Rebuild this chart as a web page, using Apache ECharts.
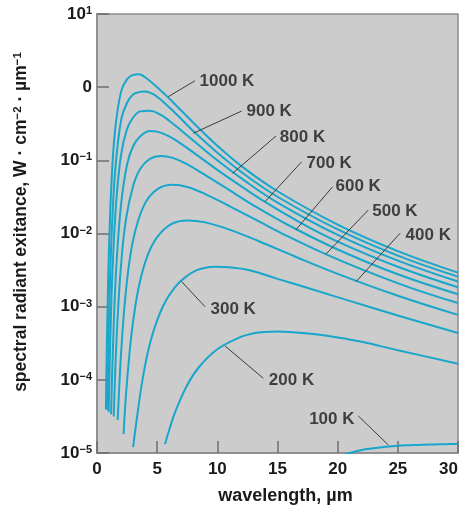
<!DOCTYPE html>
<html><head><meta charset="utf-8">
<script src="https://cdn.jsdelivr.net/npm/echarts@6.0.0/dist/echarts.min.js"></script>
<style>html,body{margin:0;padding:0;background:#fff}#c{width:462px;height:509px}</style>
</head><body><div id="c"></div>
<script>
// ---- tick labels ----
const xTicks = [0, 5, 10, 15, 20, 25, 30];
const yExponents = [-5, -4, -3, -2, -1, 0, 1];
const yTickText = ['10|−5', '10|−4', '10|−3', '10|−2', '10|−1', '0', '10|1'];

// ---- curves: wavelength (µm) and spectral radiant exitance (W·cm⁻²·µm⁻¹) ----
const curveNames = ['1000 K', '900 K', '800 K', '700 K', '600 K', '500 K', '400 K', '300 K', '200 K', '100 K'];

const wl1000 = [0.74, 0.8, 0.9, 1.0, 1.2, 1.5, 2.0, 2.5, 3.0, 3.5, 4.0, 5.0, 6.0, 7.0, 8.0, 10, 12, 15, 20, 25, 30];
const m1000 = [3.93e-5, 1.91e-4, 1.45e-3, 6.47e-3, 4.80e-2, 0.255, 0.869, 1.285, 1.472, 1.503, 1.365, 1.000, 0.700, 0.479, 0.327, 0.158, 0.0834, 0.0378, 0.01324, 5.74e-3, 2.92e-3];

const wl900 = [0.86, 0.95, 1.05, 1.2, 1.5, 2.0, 2.5, 3.0, 3.5, 3.9, 4.4, 5, 6, 7, 8, 10, 12, 15, 20, 25, 30];
const m900 = [3.89e-5, 2.75e-4, 1.41e-3, 8.22e-3, 6.90e-2, 0.351, 0.612, 0.794, 0.855, 0.873, 0.841, 0.741, 0.531, 0.367, 0.251, 0.127, 0.069, 0.0318, 0.01138, 4.99e-3, 2.57e-3];

const wl800 = [0.97, 1.05, 1.15, 1.3, 1.6, 2.0, 2.5, 3.0, 3.6, 4.4, 5.2, 6.0, 7.0, 8.0, 10, 12, 15, 20, 25, 30];
const m800 = [3.63e-5, 1.53e-4, 6.65e-4, 3.46e-3, 2.76e-2, 0.119, 0.269, 0.385, 0.467, 0.476, 0.428, 0.348, 0.256, 0.187, 0.100, 0.0566, 0.0264, 9.55e-3, 4.25e-3, 2.21e-3];

const wl700 = [1.17, 1.25, 1.4, 1.6, 2.0, 2.5, 3.0, 3.6, 4.4, 5.0, 6.0, 7.0, 8.0, 10, 12, 14, 17, 20, 25, 30];
const m700 = [3.39e-5, 1.06e-4, 6.30e-4, 3.37e-3, 2.50e-2, 8.79e-2, 0.156, 0.213, 0.252, 0.247, 0.213, 0.168, 0.1285, 0.0741, 0.0441, 0.0268, 0.0138, 7.76e-3, 3.51e-3, 1.84e-3];

const wl600 = [1.39, 1.5, 1.7, 2.0, 2.4, 3.0, 3.6, 4.4, 5.3, 6.3, 7.5, 9, 11, 13, 16, 20, 25, 30];
const m600 = [3.16e-5, 1.13e-4, 6.46e-4, 3.73e-3, 1.54e-2, 4.47e-2, 7.69e-2, 0.1047, 0.1148, 0.1081, 0.0879, 0.0629, 0.0392, 0.0243, 0.01276, 6.05e-3, 2.77e-3, 1.48e-3];

const wl500 = [1.72, 1.85, 2.0, 2.3, 2.7, 3.2, 4.0, 5.0, 6.3, 7.5, 9, 11, 13.5, 16, 19, 22, 26, 30];
const m500 = [2.82e-5, 8.05e-5, 2.30e-4, 1.08e-3, 4.19e-3, 1.12e-2, 2.60e-2, 4.02e-2, 4.62e-2, 4.32e-2, 3.46e-2, 2.37e-2, 1.45e-2, 8.91e-3, 5.22e-3, 3.24e-3, 1.82e-3, 1.12e-3];

const wl400 = [2.21, 2.4, 2.7, 3.0, 3.5, 4.2, 5.0, 6.2, 7.5, 9, 11, 13.5, 16.5, 20, 25, 30];
const m400 = [1.82e-5, 5.97e-5, 2.30e-4, 6.23e-4, 1.96e-3, 4.97e-3, 8.91e-3, 1.35e-2, 1.51e-2, 1.42e-2, 1.13e-2, 7.78e-3, 4.81e-3, 2.81e-3, 1.41e-3, 7.73e-4];

const wl300 = [3.0, 3.3, 3.8, 4.5, 5.5, 6.5, 7.5, 8.25, 9.0, 9.8, 11, 12.5, 15, 18, 21, 25, 30];
const m300 = [1.20e-5, 2.87e-5, 1.04e-4, 3.62e-4, 1.03e-3, 1.87e-3, 2.64e-3, 3.13e-3, 3.40e-3, 3.51e-3, 3.45e-3, 3.20e-3, 2.40e-3, 1.70e-3, 1.20e-3, 7.59e-4, 4.37e-4];

const wl200 = [5.65, 6.0, 6.5, 7.5, 8.5, 10, 12, 13, 14, 15, 16, 18, 20, 22, 25, 30];
const m200 = [1.32e-5, 2.06e-5, 3.64e-5, 8.48e-5, 1.51e-4, 2.62e-4, 3.89e-4, 4.32e-4, 4.52e-4, 4.57e-4, 4.52e-4, 4.22e-4, 3.80e-4, 3.31e-4, 2.54e-4, 1.66e-4];

const wl100 = [20.5, 21, 22, 23, 24, 25, 26, 27, 28, 29, 30];
const m100 = [9.33e-6, 1.00e-5, 1.10e-5, 1.16e-5, 1.22e-5, 1.26e-5, 1.28e-5, 1.30e-5, 1.31e-5, 1.32e-5, 1.33e-5];

const curveWl = [wl1000, wl900, wl800, wl700, wl600, wl500, wl400, wl300, wl200, wl100];
const curveM = [m1000, m900, m800, m700, m600, m500, m400, m300, m200, m100];

// ---- annotation layout (data-space positions: [wavelength, log10 exitance]) ----
const annotations = [
  { label: [8.48, 0.075], side: 'right', line: [[5.925, -0.130], [8.144, 0.088]] },
  { label: [12.38, -0.326], side: 'right', line: [[8.003, -0.630], [12.025, -0.326]] },
  { label: [15.15, -0.691], side: 'right', line: [[11.277, -1.177], [14.876, -0.667]] },
  { label: [17.37, -1.040], side: 'right', line: [[13.962, -1.565], [17.011, -1.019]] },
  { label: [19.78, -1.360], side: 'right', line: [[16.513, -1.952], [19.588, -1.360]] },
  { label: [22.83, -1.702], side: 'right', line: [[19.031, -2.280], [22.546, -1.679]] },
  { label: [25.60, -2.020], side: 'right', line: [[21.524, -2.659], [25.181, -1.997]] },
  { label: [9.39, -3.036], side: 'right', line: [[7.039, -2.659], [8.975, -3.000]] },
  { label: [14.24, -4.002], side: 'right', line: [[10.637, -3.537], [13.820, -3.979]] },
  { label: [21.44, -4.539], side: 'left', line: [[24.208, -4.890], [21.715, -4.494]] }
];

const FONT = '"Liberation Sans", Arial, Helvetica, sans-serif';
const TXT = '#1a1a1a';
const CURVE = '#19a6cb';
const AXIS = '#8a8a8a';
const p10 = e => Math.pow(10, e);

const series = curveNames.map((name, k) => ({
  name: name,
  type: 'line',
  data: curveWl[k].map((x, i) => [x, curveM[k][i]]),
  showSymbol: false,
  symbol: 'none',
  smooth: 0.4,
  clip: true,
  lineStyle: { color: CURVE, width: 2 },
  silent: true,
  z: 3,
  markLine: {
    silent: true,
    symbol: ['none', 'none'],
    animation: false,
    label: { show: false },
    lineStyle: { color: '#3c3c3c', width: 1, type: 'solid' },
    data: [[
      { coord: [annotations[k].line[0][0], p10(annotations[k].line[0][1])] },
      { coord: [annotations[k].line[1][0], p10(annotations[k].line[1][1])] }
    ]]
  }
}));

series.push({
  type: 'scatter',
  silent: true,
  symbol: 'circle',
  symbolSize: 1,
  itemStyle: { color: 'rgba(0,0,0,0)' },
  z: 5,
  labelLayout: { hideOverlap: false },
  data: annotations.map((a, k) => ({
    value: [a.label[0], p10(a.label[1])],
    label: {
      show: true,
      position: a.side,
      distance: 0,
      formatter: curveNames[k],
      color: TXT,
      fontSize: 17,
      fontWeight: 'bold',
      fontFamily: FONT
    }
  }))
});

const chart = echarts.init(document.getElementById('c'), null, { renderer: 'canvas' });
chart.setOption({
  animation: false,
  backgroundColor: '#ffffff',
  grid: {
    left: 97, top: 14, right: 4, bottom: 56,
    show: true, backgroundColor: '#cccccc', borderColor: AXIS, borderWidth: 1.5,
    containLabel: false, outerBoundsMode: 'none'
  },
  xAxis: {
    type: 'value', min: xTicks[0], max: xTicks[xTicks.length - 1], interval: 5,
    name: 'wavelength, µm', nameLocation: 'middle', nameGap: 34,
    nameTextStyle: { color: TXT, fontSize: 18, fontWeight: 'bold', fontFamily: FONT, padding: [0, 0, 0, 16] },
    axisLine: { show: true, lineStyle: { color: AXIS, width: 1.5 } },
    axisTick: { show: true, inside: true, length: 12, lineStyle: { color: '#6e6e6e', width: 1.5 } },
    splitLine: { show: false },
    axisLabel: {
      color: TXT, fontSize: 17, fontWeight: 'bold', fontFamily: FONT, margin: 8,
      alignMaxLabel: 'right',
      formatter: v => String(v)
    }
  },
  yAxis: {
    type: 'log', logBase: 10, min: p10(yExponents[0]), max: p10(yExponents[yExponents.length - 1]),
    splitNumber: 6,
    axisLine: { show: true, lineStyle: { color: AXIS, width: 1.5 } },
    axisTick: { show: true, inside: true, length: 12, lineStyle: { color: '#6e6e6e', width: 1.5 } },
    splitLine: { show: false },
    minorTick: { show: false },
    axisLabel: {
      margin: 5,
      formatter: v => {
        const n = Math.round(Math.log10(v));
        const t = yTickText[yExponents.indexOf(n)];
        if (t === undefined) return '';
        const parts = t.split('|');
        return parts.length === 1 ? '{b|' + parts[0] + '}' : '{b|' + parts[0] + '}{s|' + parts[1] + '}';
      },
      rich: {
        b: { color: TXT, fontSize: 17, fontWeight: 'bold', fontFamily: FONT },
        s: { color: TXT, fontSize: 11, fontWeight: 'bold', fontFamily: FONT, verticalAlign: 'top' }
      }
    }
  },
  graphic: [{
    type: 'text',
    x: 21, y: 222,
    rotation: Math.PI / 2,
    silent: true,
    style: {
      text: '{a|spectral radiant exitance, W · cm}{s|−2}{a| · µm}{s|−1}',
      align: 'center',
      verticalAlign: 'middle',
      rich: {
        a: { fill: TXT, fontSize: 17.5, fontWeight: 'bold', fontFamily: FONT },
        s: { fill: TXT, fontSize: 11.5, fontWeight: 'bold', fontFamily: FONT, verticalAlign: 'top' }
      }
    }
  }],
  series: series
});
</script>
</body></html>
